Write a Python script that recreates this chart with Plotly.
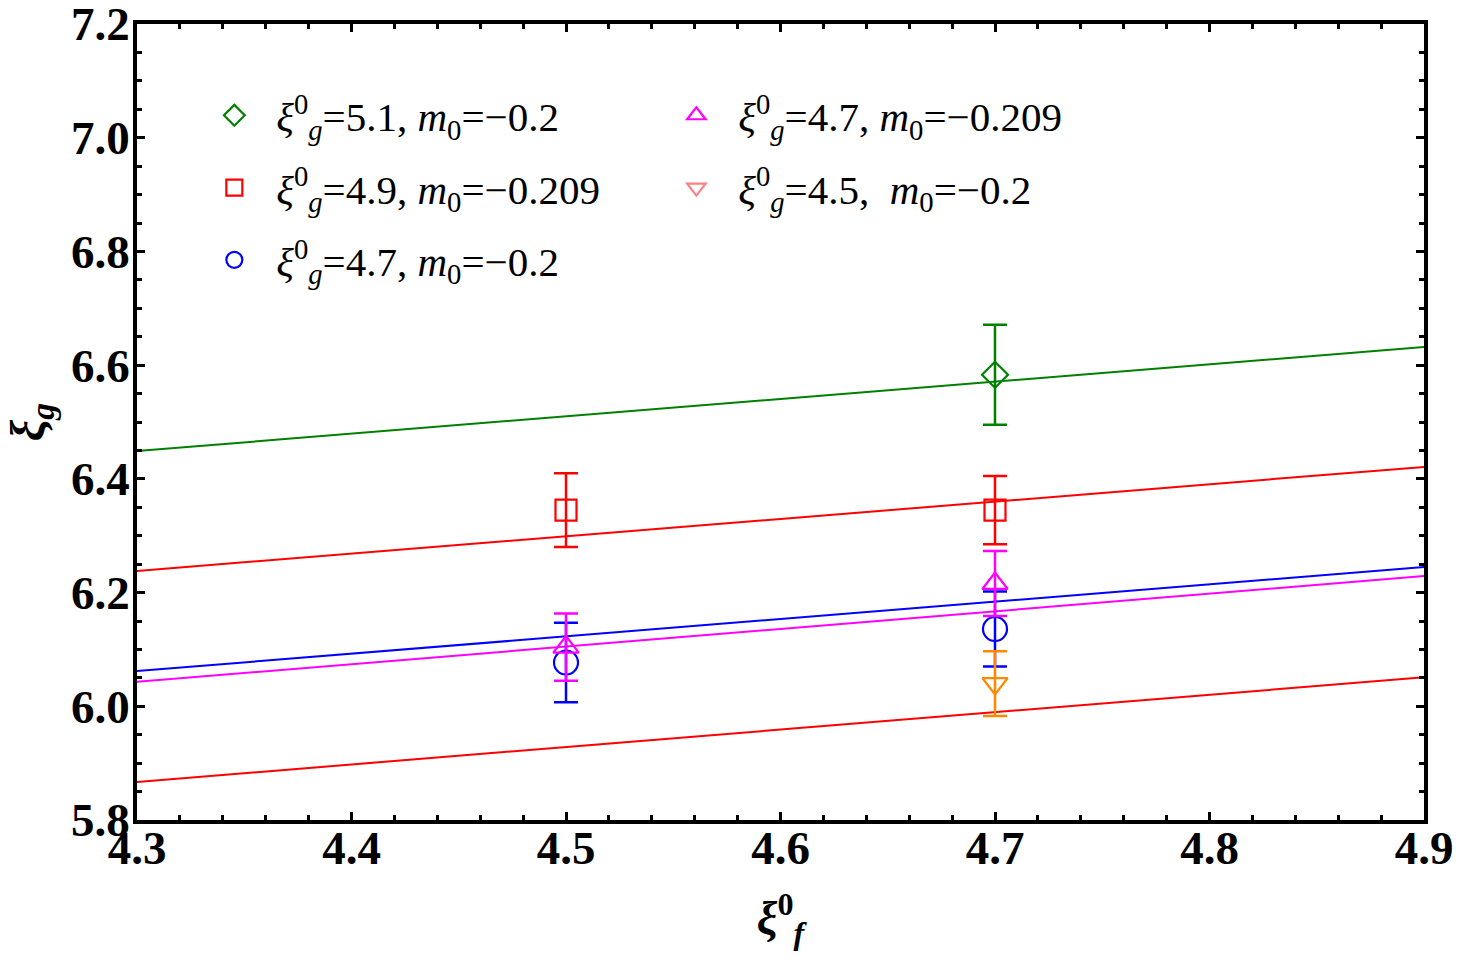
import plotly.graph_objects as go

# ---- data ----
x_line = [4.3, 4.9]

green_x = [4.7]
green_y = [6.583]
green_err = [0.088]
green_line = [6.449, 6.632]

red_x = [4.5, 4.7]
red_y = [6.345, 6.345]
red_err = [0.065, 0.060]
red_line = [6.238, 6.421]

blue_x = [4.5, 4.7]
blue_y = [6.077, 6.136]
blue_err = [0.070, 0.066]
blue_line = [6.062, 6.245]

mag_x = [4.5, 4.7]
mag_y = [6.104, 6.216]
mag_err = [0.059, 0.057]
mag_line = [6.043, 6.229]

orange_x = [4.7]
orange_y = [6.040]
orange_err = [0.057]
red2_line = [5.867, 6.051]

x_ticks = [4.3, 4.4, 4.5, 4.6, 4.7, 4.8, 4.9]
y_ticks = [5.8, 6.0, 6.2, 6.4, 6.6, 6.8, 7.0, 7.2]

labels = [
    "<i>ξ</i><sup>0</sup><sub><i>g</i></sub>=5.1, <i>m</i><sub>0</sub>=−0.2",
    "<i>ξ</i><sup>0</sup><sub><i>g</i></sub>=4.9, <i>m</i><sub>0</sub>=−0.209",
    "<i>ξ</i><sup>0</sup><sub><i>g</i></sub>=4.7, <i>m</i><sub>0</sub>=−0.2",
    "<i>ξ</i><sup>0</sup><sub><i>g</i></sub>=4.7, <i>m</i><sub>0</sub>=−0.209",
    "<i>ξ</i><sup>0</sup><sub><i>g</i></sub>=4.5,  <i>m</i><sub>0</sub>=−0.2",
]

GREEN = "#008000"
RED = "#FF0000"
BLUE = "#0000FF"
MAG = "#FF00FF"
ORANGE = "#FF8800"
SALMON = "#FF8080"
SERIF = "Liberation Serif, Times New Roman, serif"

fig = go.Figure()

# fit lines
for yl, c in [(green_line, GREEN), (red_line, RED), (blue_line, BLUE),
              (mag_line, MAG), (red2_line, RED)]:
    fig.add_trace(go.Scatter(x=x_line, y=yl, mode="lines",
                             line=dict(color=c, width=2), showlegend=False,
                             hoverinfo="skip"))

def pts(x, y, e, c, sym, size, name, legend, show=True):
    return go.Scatter(
        x=x, y=y, mode="markers", name=name, legend=legend,
        legendgroup=name, showlegend=show,
        marker=dict(symbol=sym, size=size, color=c,
                    line=dict(color=c, width=2.2)),
        error_y=dict(type="data", array=e, visible=True, color=c,
                     thickness=2.5, width=12),
    )

fig.add_trace(pts(green_x, green_y, green_err, GREEN, "diamond-open", 20, labels[0], "legend"))
fig.add_trace(pts(red_x, red_y, red_err, RED, "square-open", 21, labels[1], "legend"))
fig.add_trace(pts(blue_x, blue_y, blue_err, BLUE, "circle-open", 24, labels[2], "legend"))
fig.add_trace(pts(mag_x, mag_y, mag_err, MAG, "triangle-up-open", 22, labels[3], "legend2"))
fig.add_trace(pts(orange_x, orange_y, orange_err, ORANGE, "triangle-down-open", 22, labels[4], "legend2", show=False))
# legend entry for orange series (legend marker drawn in salmon as in reference)
fig.add_trace(go.Scatter(x=[None], y=[None], mode="markers", name=labels[4],
                         legend="legend2", legendgroup="o",
                         marker=dict(symbol="triangle-down-open", size=22,
                                     color=SALMON, line=dict(color=SALMON, width=2.2))))

axis_common = dict(
    showline=True, linecolor="black", linewidth=3.5, mirror="ticks",
    ticks="inside", ticklen=8, tickwidth=3, tickcolor="black",
    showgrid=False, zeroline=False, automargin=False, ticklabeloverflow="allow",
    tickfont=dict(family=SERIF, size=47, color="black", weight="bold"),
)

fig.update_xaxes(
    range=[4.3, 4.9], tickvals=x_ticks,
    ticktext=[f"{v:.1f}" for v in x_ticks],
    ticklabelstandoff=-16,
    minor=dict(dtick=0.02, tick0=4.3, ticks="inside", ticklen=5, tickwidth=2.5, tickcolor="black"),
    title=dict(text="<i>ξ</i><sup>0</sup><sub><i>f</i></sub>",
               font=dict(family=SERIF, size=46, color="black", weight="bold"), standoff=30),
    **axis_common,
)
fig.update_yaxes(
    range=[5.8, 7.2], tickvals=y_ticks,
    ticktext=[f"{v:.1f}" for v in y_ticks],
    ticklabelstandoff=-6,
    minor=dict(dtick=0.05, tick0=5.8, ticks="inside", ticklen=5, tickwidth=2.5, tickcolor="black"),
    title=dict(text="<i>ξ<sub>g</sub></i>",
               font=dict(family=SERIF, size=48, color="black", weight="bold"), standoff=12),
    **axis_common,
)

legend_common = dict(
    font=dict(family=SERIF, size=41, color="black"),
    bgcolor="rgba(0,0,0,0)", borderwidth=0,
    traceorder="grouped", tracegroupgap=16, itemsizing="trace", itemwidth=74,
    xanchor="left", yanchor="top",
)
fig.update_layout(
    width=1459, height=963,
    margin=dict(l=137, r=35, t=24, b=143),
    plot_bgcolor="white", paper_bgcolor="white",
    legend=dict(x=0.043, y=0.927, **legend_common),
    legend2=dict(x=0.402, y=0.927, **legend_common),
)

fig.write_html("out.html")
